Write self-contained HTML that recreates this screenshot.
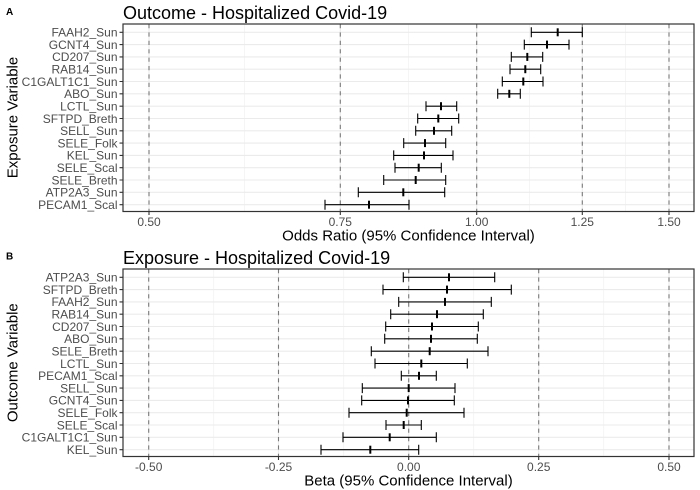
<!DOCTYPE html>
<html><head><meta charset="utf-8"><style>
html,body{margin:0;padding:0;background:#fff;}
svg{display:block;}
text{font-family:"Liberation Sans",Arial,sans-serif;}
.tl{font-size:12px;fill:#4d4d4d;}
.at{font-size:15px;fill:#000;}
.tt{font-size:18px;fill:#000;}
.lb{font-size:10px;font-weight:bold;fill:#000;}
.gmaj{stroke:#ebebeb;stroke-width:1.1;}
.gmin{stroke:#f3f3f3;stroke-width:0.8;}
.dash{stroke:#7a7a7a;stroke-width:1.1;stroke-dasharray:4.2,4.2;}
.eb{stroke:#000;stroke-width:1.1;fill:none;}
.tk{stroke:#333;stroke-width:1.1;}
</style></head><body>
<svg width="700" height="490" viewBox="0 0 700 490" xmlns="http://www.w3.org/2000/svg">
<rect width="700" height="490" fill="#fff"/>

<!-- ================= PANEL A ================= -->
<text class="lb" x="6" y="15">A</text>
<text class="tt" x="123" y="19">Outcome - Hospitalized Covid-19</text>

<!-- minor vertical grid -->
<g class="gmin">
<line x1="244.5" y1="24" x2="244.5" y2="211.5"/>
<line x1="408.5" y1="24" x2="408.5" y2="211.5"/>
<line x1="529.5" y1="24" x2="529.5" y2="211.5"/>
<line x1="625.5" y1="24" x2="625.5" y2="211.5"/>
</g>
<!-- major grid -->
<g class="gmaj">
<line x1="149" y1="24" x2="149" y2="211.5"/>
<line x1="340.3" y1="24" x2="340.3" y2="211.5"/>
<line x1="476.7" y1="24" x2="476.7" y2="211.5"/>
<line x1="582.3" y1="24" x2="582.3" y2="211.5"/>
<line x1="669" y1="24" x2="669" y2="211.5"/>
<line x1="123" y1="32.3" x2="694" y2="32.3"/>
<line x1="123" y1="44.6" x2="694" y2="44.6"/>
<line x1="123" y1="56.9" x2="694" y2="56.9"/>
<line x1="123" y1="69.2" x2="694" y2="69.2"/>
<line x1="123" y1="81.5" x2="694" y2="81.5"/>
<line x1="123" y1="93.8" x2="694" y2="93.8"/>
<line x1="123" y1="106.2" x2="694" y2="106.2"/>
<line x1="123" y1="118.5" x2="694" y2="118.5"/>
<line x1="123" y1="130.8" x2="694" y2="130.8"/>
<line x1="123" y1="143.1" x2="694" y2="143.1"/>
<line x1="123" y1="155.4" x2="694" y2="155.4"/>
<line x1="123" y1="167.7" x2="694" y2="167.7"/>
<line x1="123" y1="180.0" x2="694" y2="180.0"/>
<line x1="123" y1="192.3" x2="694" y2="192.3"/>
<line x1="123" y1="204.7" x2="694" y2="204.7"/>
</g>
<!-- dashed refs -->
<g class="dash">
<line x1="149" y1="24" x2="149" y2="211.5"/>
<line x1="340.3" y1="24" x2="340.3" y2="211.5"/>
<line x1="476.7" y1="24" x2="476.7" y2="211.5"/>
<line x1="582.3" y1="24" x2="582.3" y2="211.5"/>
<line x1="669" y1="24" x2="669" y2="211.5"/>
</g>
<!-- error bars A -->
<g class="eb">
<path d="M531.3 32.3H582.3M531.3 27.3V37.3M582.3 27.3V37.3"/>
<path d="M524.3 44.6H569M524.3 39.6V49.6M569 39.6V49.6"/>
<path d="M511.3 56.9H542.7M511.3 51.9V61.9M542.7 51.9V61.9"/>
<path d="M510 69.2H540.7M510 64.2V74.2M540.7 64.2V74.2"/>
<path d="M502.3 81.5H543M502.3 76.5V86.5M543 76.5V86.5"/>
<path d="M497.7 93.8H520.3M497.7 88.8V98.8M520.3 88.8V98.8"/>
<path d="M426 106.2H456.7M426 101.2V111.2M456.7 101.2V111.2"/>
<path d="M417.7 118.5H458.7M417.7 113.5V123.5M458.7 113.5V123.5"/>
<path d="M415.7 130.8H451.7M415.7 125.8V135.8M451.7 125.8V135.8"/>
<path d="M403.7 143.1H445.7M403.7 138.1V148.1M445.7 138.1V148.1"/>
<path d="M393.7 155.4H453M393.7 150.4V160.4M453 150.4V160.4"/>
<path d="M395 167.7H441.3M395 162.7V172.7M441.3 162.7V172.7"/>
<path d="M383.7 180.0H445.7M383.7 175V185M445.7 175V185"/>
<path d="M358.3 192.3H444.7M358.3 187.3V197.3M444.7 187.3V197.3"/>
<path d="M325 204.7H409M325 199.7V209.7M409 199.7V209.7"/>
</g>
<g fill="#000">
<rect x="556.7" y="28.3" width="2" height="8"/>
<rect x="546" y="40.6" width="2" height="8"/>
<rect x="526.3" y="52.9" width="2" height="8"/>
<rect x="524.3" y="65.2" width="2" height="8"/>
<rect x="522.3" y="77.5" width="2" height="8"/>
<rect x="508.3" y="89.8" width="2" height="8"/>
<rect x="440" y="102.2" width="2" height="8"/>
<rect x="437.3" y="114.5" width="2" height="8"/>
<rect x="433" y="126.8" width="2" height="8"/>
<rect x="424" y="139.1" width="2" height="8"/>
<rect x="423" y="151.4" width="2" height="8"/>
<rect x="417.7" y="163.7" width="2" height="8"/>
<rect x="414.7" y="176" width="2" height="8"/>
<rect x="402.3" y="188.3" width="2" height="8"/>
<rect x="368" y="200.7" width="2" height="8"/>
</g>
<!-- border -->
<rect x="123" y="24" width="571" height="187.5" fill="none" stroke="#333" stroke-width="1.2"/>
<!-- y ticks -->
<g class="tk">
<path d="M119.5 32.3H123M119.5 44.6H123M119.5 56.9H123M119.5 69.2H123M119.5 81.5H123M119.5 93.8H123M119.5 106.2H123M119.5 118.5H123M119.5 130.8H123M119.5 143.1H123M119.5 155.4H123M119.5 167.7H123M119.5 180H123M119.5 192.3H123M119.5 204.7H123"/>
<path d="M149 211.5V215M340.3 211.5V215M476.7 211.5V215M582.3 211.5V215M669 211.5V215"/>
</g>
<g class="tl" text-anchor="end">
<text x="117.5" y="36.6">FAAH2_Sun</text>
<text x="117.5" y="48.9">GCNT4_Sun</text>
<text x="117.5" y="61.2">CD207_Sun</text>
<text x="117.5" y="73.5">RAB14_Sun</text>
<text x="117.5" y="85.8">C1GALT1C1_Sun</text>
<text x="117.5" y="98.1">ABO_Sun</text>
<text x="117.5" y="110.5">LCTL_Sun</text>
<text x="117.5" y="122.8">SFTPD_Breth</text>
<text x="117.5" y="135.1">SELL_Sun</text>
<text x="117.5" y="147.4">SELE_Folk</text>
<text x="117.5" y="159.7">KEL_Sun</text>
<text x="117.5" y="172">SELE_Scal</text>
<text x="117.5" y="184.3">SELE_Breth</text>
<text x="117.5" y="196.6">ATP2A3_Sun</text>
<text x="117.5" y="209">PECAM1_Scal</text>
</g>
<g class="tl" text-anchor="middle">
<text x="149" y="226">0.50</text>
<text x="340.3" y="226">0.75</text>
<text x="476.7" y="226">1.00</text>
<text x="582.3" y="226">1.25</text>
<text x="669" y="226">1.50</text>
</g>
<text class="at" x="408.5" y="240.5" text-anchor="middle">Odds Ratio (95% Confidence Interval)</text>
<text class="at" transform="translate(17.5,117.5) rotate(-90)" text-anchor="middle">Exposure Variable</text>

<!-- ================= PANEL B ================= -->
<text class="lb" x="6" y="259.5">B</text>
<text class="tt" x="123" y="264">Exposure - Hospitalized Covid-19</text>

<g class="gmin">
<line x1="213.7" y1="269" x2="213.7" y2="456.5"/>
<line x1="343.7" y1="269" x2="343.7" y2="456.5"/>
<line x1="473.7" y1="269" x2="473.7" y2="456.5"/>
<line x1="603.7" y1="269" x2="603.7" y2="456.5"/>
</g>
<g class="gmaj">
<line x1="148.7" y1="269" x2="148.7" y2="456.5"/>
<line x1="278.5" y1="269" x2="278.5" y2="456.5"/>
<line x1="408.7" y1="269" x2="408.7" y2="456.5"/>
<line x1="538.7" y1="269" x2="538.7" y2="456.5"/>
<line x1="669" y1="269" x2="669" y2="456.5"/>
<line x1="123" y1="277.3" x2="694" y2="277.3"/>
<line x1="123" y1="289.6" x2="694" y2="289.6"/>
<line x1="123" y1="301.9" x2="694" y2="301.9"/>
<line x1="123" y1="314.2" x2="694" y2="314.2"/>
<line x1="123" y1="326.5" x2="694" y2="326.5"/>
<line x1="123" y1="338.8" x2="694" y2="338.8"/>
<line x1="123" y1="351.2" x2="694" y2="351.2"/>
<line x1="123" y1="363.5" x2="694" y2="363.5"/>
<line x1="123" y1="375.8" x2="694" y2="375.8"/>
<line x1="123" y1="388.1" x2="694" y2="388.1"/>
<line x1="123" y1="400.4" x2="694" y2="400.4"/>
<line x1="123" y1="412.7" x2="694" y2="412.7"/>
<line x1="123" y1="425" x2="694" y2="425"/>
<line x1="123" y1="437.3" x2="694" y2="437.3"/>
<line x1="123" y1="449.7" x2="694" y2="449.7"/>
</g>
<g class="dash">
<line x1="148.7" y1="269" x2="148.7" y2="456.5"/>
<line x1="278.5" y1="269" x2="278.5" y2="456.5"/>
<line x1="408.7" y1="269" x2="408.7" y2="456.5"/>
<line x1="538.7" y1="269" x2="538.7" y2="456.5"/>
<line x1="669" y1="269" x2="669" y2="456.5"/>
</g>
<g class="eb">
<path d="M403.3 277.3H494.7M403.3 272.3V282.3M494.7 272.3V282.3"/>
<path d="M383 289.6H511.3M383 284.6V294.6M511.3 284.6V294.6"/>
<path d="M398.7 301.9H491.3M398.7 296.9V306.9M491.3 296.9V306.9"/>
<path d="M390.7 314.2H483.3M390.7 309.2V319.2M483.3 309.2V319.2"/>
<path d="M385.7 326.5H478.3M385.7 321.5V331.5M478.3 321.5V331.5"/>
<path d="M384.7 338.8H477.3M384.7 333.8V343.8M477.3 333.8V343.8"/>
<path d="M371.3 351.2H488M371.3 346.2V356.2M488 346.2V356.2"/>
<path d="M375 363.5H467.3M375 358.5V368.5M467.3 358.5V368.5"/>
<path d="M401.3 375.8H436.3M401.3 370.8V380.8M436.3 370.8V380.8"/>
<path d="M362.3 388.1H455M362.3 383.1V393.1M455 383.1V393.1"/>
<path d="M361.7 400.4H454.3M361.7 395.4V405.4M454.3 395.4V405.4"/>
<path d="M349 412.7H464M349 407.7V417.7M464 407.7V417.7"/>
<path d="M386 425H421.3M386 420V430M421.3 420V430"/>
<path d="M343 437.3H436.3M343 432.3V442.3M436.3 432.3V442.3"/>
<path d="M321 449.7H418.7M321 444.7V454.7M418.7 444.7V454.7"/>
</g>
<g fill="#000">
<rect x="448" y="273.3" width="2" height="8"/>
<rect x="446" y="285.6" width="2" height="8"/>
<rect x="444" y="297.9" width="2" height="8"/>
<rect x="436" y="310.2" width="2" height="8"/>
<rect x="431" y="322.5" width="2" height="8"/>
<rect x="430" y="334.8" width="2" height="8"/>
<rect x="428.7" y="347.2" width="2" height="8"/>
<rect x="420.3" y="359.5" width="2" height="8"/>
<rect x="418" y="371.8" width="2" height="8"/>
<rect x="407.7" y="384.1" width="2" height="8"/>
<rect x="407" y="396.4" width="2" height="8"/>
<rect x="405.7" y="408.7" width="2" height="8"/>
<rect x="402.7" y="421" width="2" height="8"/>
<rect x="388.7" y="433.3" width="2" height="8"/>
<rect x="369.3" y="445.7" width="2" height="8"/>
</g>
<rect x="123" y="269" width="571" height="187.5" fill="none" stroke="#333" stroke-width="1.2"/>
<g class="tk">
<path d="M119.5 277.3H123M119.5 289.6H123M119.5 301.9H123M119.5 314.2H123M119.5 326.5H123M119.5 338.8H123M119.5 351.2H123M119.5 363.5H123M119.5 375.8H123M119.5 388.1H123M119.5 400.4H123M119.5 412.7H123M119.5 425H123M119.5 437.3H123M119.5 449.7H123"/>
<path d="M148.7 456.5V460M278.5 456.5V460M408.7 456.5V460M538.7 456.5V460M669 456.5V460"/>
</g>
<g class="tl" text-anchor="end">
<text x="117.5" y="281.6">ATP2A3_Sun</text>
<text x="117.5" y="293.9">SFTPD_Breth</text>
<text x="117.5" y="306.2">FAAH2_Sun</text>
<text x="117.5" y="318.5">RAB14_Sun</text>
<text x="117.5" y="330.8">CD207_Sun</text>
<text x="117.5" y="343.1">ABO_Sun</text>
<text x="117.5" y="355.5">SELE_Breth</text>
<text x="117.5" y="367.8">LCTL_Sun</text>
<text x="117.5" y="380.1">PECAM1_Scal</text>
<text x="117.5" y="392.4">SELL_Sun</text>
<text x="117.5" y="404.7">GCNT4_Sun</text>
<text x="117.5" y="417">SELE_Folk</text>
<text x="117.5" y="429.3">SELE_Scal</text>
<text x="117.5" y="441.6">C1GALT1C1_Sun</text>
<text x="117.5" y="454">KEL_Sun</text>
</g>
<g class="tl" text-anchor="middle">
<text x="148.7" y="471">-0.50</text>
<text x="278.5" y="471">-0.25</text>
<text x="408.7" y="471">0.00</text>
<text x="538.7" y="471">0.25</text>
<text x="669" y="471">0.50</text>
</g>
<text class="at" x="408.5" y="485.5" text-anchor="middle">Beta (95% Confidence Interval)</text>
<text class="at" transform="translate(17.5,362.7) rotate(-90)" text-anchor="middle">Outcome Variable</text>
</svg>
</body></html>
